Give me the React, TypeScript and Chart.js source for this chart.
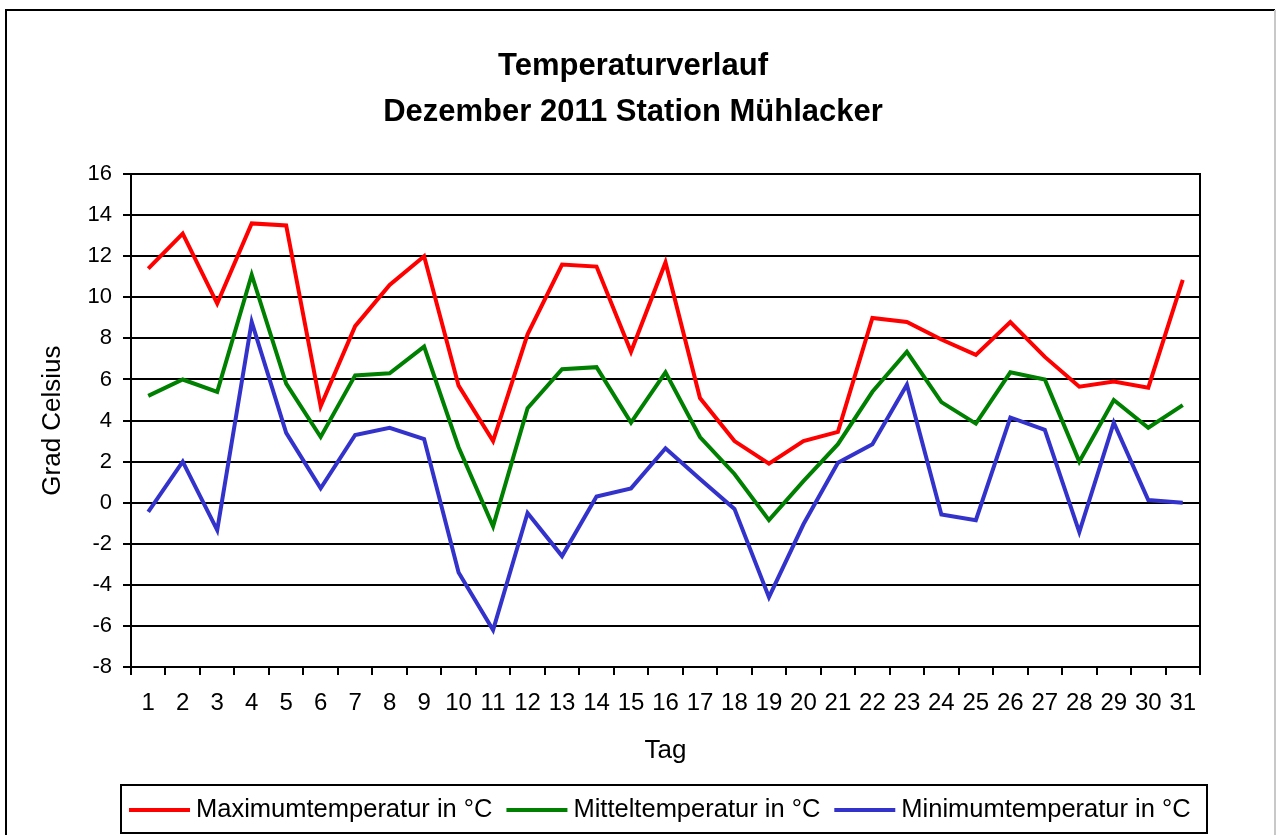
import React, { useEffect, useRef } from "react";
import { Chart, registerables } from "chart.js";

Chart.register(...registerables);

const FONT = "'Liberation Sans', Arial, Helvetica, sans-serif";

const days = [
  "1", "2", "3", "4", "5", "6", "7", "8", "9", "10",
  "11", "12", "13", "14", "15", "16", "17", "18", "19", "20",
  "21", "22", "23", "24", "25", "26", "27", "28", "29", "30", "31",
];

const maxTemp = [
  11.4, 13.1, 9.7, 13.6, 13.5, 4.7, 8.6, 10.6, 12.0, 5.7,
  3.0, 8.2, 11.6, 11.5, 7.35, 11.7, 5.1, 3.0, 1.9, 3.0,
  3.45, 9.0, 8.8, 7.95, 7.2, 8.8, 7.1, 5.65, 5.9, 5.6, 10.85,
];

const midTemp = [
  5.2, 6.0, 5.4, 11.1, 5.8, 3.2, 6.2, 6.3, 7.6, 2.7,
  -1.15, 4.6, 6.5, 6.6, 3.9, 6.35, 3.2, 1.4, -0.85, 1.05,
  2.85, 5.4, 7.35, 4.9, 3.85, 6.35, 6.0, 2.0, 5.0, 3.65, 4.75,
];

const minTemp = [
  -0.45, 2.0, -1.33, 8.8, 3.4, 0.7, 3.3, 3.65, 3.1, -3.4,
  -6.2, -0.5, -2.6, 0.3, 0.7, 2.65, 1.15, -0.3, -4.6, -1.05,
  1.95, 2.85, 5.75, -0.57, -0.85, 4.15, 3.55, -1.43, 3.9, 0.13, 0.0,
];

const seriesLabels = [
  "Maximumtemperatur in °C",
  "Mitteltemperatur in °C",
  "Minimumtemperatur in °C",
];
const seriesColors = ["#ff0000", "#008000", "#3333cc"];

const titleLines = ["Temperaturverlauf", "Dezember 2011 Station Mühlacker"];
const xTitle = "Tag";
const yTitle = "Grad Celsius";
const yMin = -8;
const yMax = 16;
const yStep = 2;

const framePlugin = {
  id: "outerFrame",
  beforeDraw(chart: any) {
    const { ctx, width, height } = chart;
    ctx.save();
    ctx.fillStyle = "#ffffff";
    ctx.fillRect(0, 0, width, height);
    ctx.lineWidth = 2;
    ctx.strokeStyle = "#000000";
    ctx.beginPath();
    ctx.moveTo(6, height);
    ctx.lineTo(6, 10);
    ctx.lineTo(width - 3, 10);
    ctx.stroke();
    ctx.strokeStyle = "#c8c8c8";
    ctx.beginPath();
    ctx.moveTo(width - 3, 10);
    ctx.lineTo(width - 3, height);
    ctx.stroke();
    ctx.restore();
  },
};

const legendBoxPlugin = {
  id: "legendBox",
  afterDraw(chart: any) {
    const { ctx, chartArea, height } = chart;
    const left = chartArea.left - 10;
    const right = chartArea.right + 7;
    const top = height - 50;
    const bottom = height - 2;
    const cy = (top + bottom) / 2 + 1;
    ctx.save();
    ctx.lineWidth = 2;
    ctx.strokeStyle = "#000000";
    ctx.strokeRect(left, top, right - left, bottom - top);
    ctx.font = `25.5px ${FONT}`;
    ctx.textBaseline = "middle";
    ctx.textAlign = "left";
    let x = left + 8;
    chart.data.datasets.forEach((ds: any) => {
      ctx.strokeStyle = ds.borderColor;
      ctx.lineWidth = 4;
      ctx.beginPath();
      ctx.moveTo(x, cy);
      ctx.lineTo(x + 61, cy);
      ctx.stroke();
      x += 61 + 6;
      ctx.fillStyle = "#000000";
      ctx.fillText(ds.label, x, cy);
      x += ctx.measureText(ds.label).width + 14;
    });
    ctx.restore();
  },
};

export default function App() {
  const canvasRef = useRef<HTMLCanvasElement | null>(null);

  useEffect(() => {
    document.body.style.margin = "0";
    const canvas = canvasRef.current;
    if (!canvas) return;
    Chart.defaults.font.family = FONT;
    Chart.defaults.color = "#000000";

    const seriesData = [maxTemp, midTemp, minTemp];
    const chart = new Chart(canvas, {
      type: "line",
      data: {
        labels: days,
        datasets: seriesData.map((d, i) => ({
          label: seriesLabels[i],
          data: d,
          borderColor: seriesColors[i],
          backgroundColor: seriesColors[i],
          borderWidth: 4,
          pointRadius: 0,
          tension: 0,
          fill: false,
          yAxisID: "y",
        })),
      },
      options: {
        responsive: false,
        animation: false,
        devicePixelRatio: 1,
        layout: { padding: { left: 6, right: 18, top: 0, bottom: 58 } },
        plugins: {
          legend: { display: false },
          tooltip: { enabled: false },
          title: {
            display: true,
            text: titleLines,
            color: "#000000",
            font: { family: FONT, size: 31, weight: "bold", lineHeight: 1.47 },
            padding: { top: 44, bottom: 39 },
          },
        },
        scales: {
          x: {
            offset: true,
            grid: {
              offset: true,
              drawOnChartArea: false,
              drawTicks: true,
              tickLength: 8,
              color: "#000000",
              lineWidth: 2,
            },
            border: { display: true, color: "#000000", width: 2 },
            ticks: {
              autoSkip: false,
              maxRotation: 0,
              minRotation: 0,
              color: "#000000",
              font: { family: FONT, size: 24 },
              padding: 14,
            },
            title: {
              display: true,
              text: xTitle,
              color: "#000000",
              font: { family: FONT, size: 26 },
              padding: { top: 0, bottom: 11 },
            },
            afterFit: (s: any) => {
              s.height = 110;
            },
          },
          y: {
            position: "left",
            min: yMin,
            max: yMax,
            ticks: {
              stepSize: yStep,
              color: "#000000",
              font: { family: FONT, size: 22 },
              padding: 11,
            },
            grid: {
              color: "#000000",
              lineWidth: 2,
              drawTicks: true,
              tickLength: 8,
            },
            border: { display: true, color: "#000000", width: 2 },
            title: {
              display: true,
              text: yTitle,
              color: "#000000",
              font: { family: FONT, size: 26 },
              padding: { top: 31, bottom: 0 },
            },
            afterFit: (s: any) => {
              s.width = 125;
            },
          },
          yRight: {
            position: "right",
            min: yMin,
            max: yMax,
            ticks: { display: false },
            grid: { display: false, drawTicks: false },
            border: { display: true, color: "#000000", width: 2 },
            afterFit: (s: any) => {
              s.width = 60;
            },
          },
        },
      },
      plugins: [framePlugin, legendBoxPlugin],
    } as any);

    return () => {
      chart.destroy();
    };
  }, []);

  return (
    <div style={{ width: 1278, height: 835, position: "relative" }}>
      <canvas
        ref={canvasRef}
        width={1278}
        height={835}
        style={{ display: "block", width: 1278, height: 835 }}
      />
    </div>
  );
}
